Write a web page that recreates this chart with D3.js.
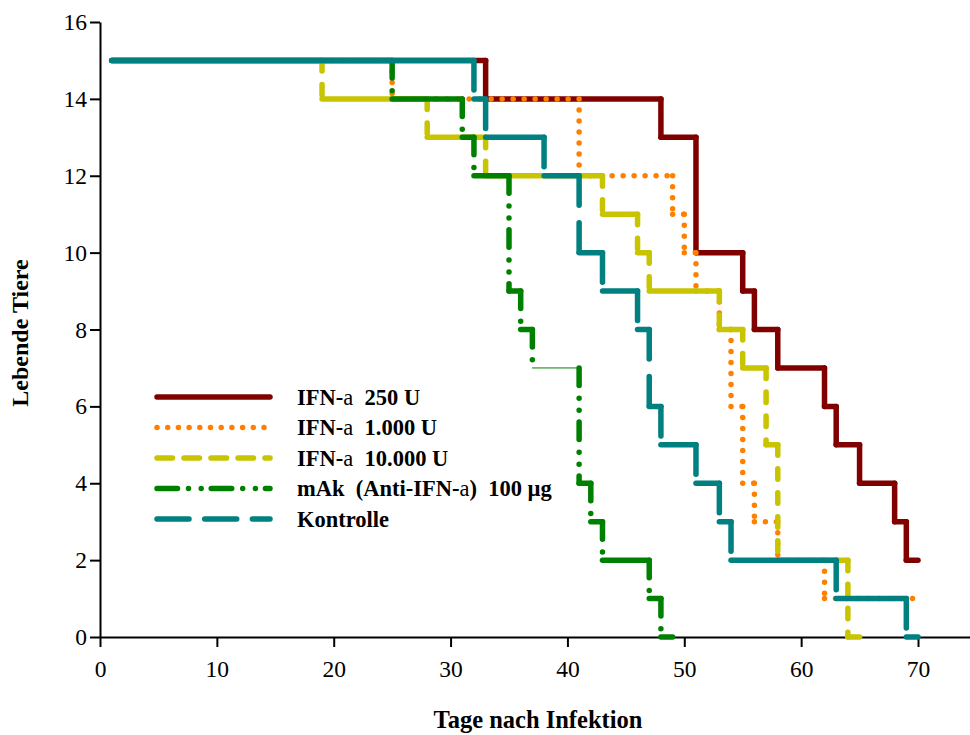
<!DOCTYPE html>
<html lang="de">
<head>
    <meta charset="UTF-8">
    <title>Lebende Tiere</title>
    <script src="https://d3js.org/d3.v7.min.js"></script>
    <style>
        body { margin: 0; background: #fff; }
        text { font-family: 'Liberation Serif', 'Times New Roman', serif; }
        .axis text { font-size: 23.5px; }
        .axis path, .axis line { stroke: #000; stroke-width: 2; }
        .title { font-size: 24px; font-weight: bold; }
        .legend text { font-size: 22.5px; font-weight: bold; white-space: pre; }
    </style>
</head>
<body>
<script>
    const width  = 970;
    const height = 735;

    // survival steps: alive[i] holds from days[i] until days[i+1]
    const names = ['IFN-a  250 U', 'IFN-a  1.000 U', 'IFN-a  10.000 U', 'mAk  (Anti-IFN-a)  100 µg', 'Kontrolle'];

    const days250   = [1, 33, 48, 51, 55, 56, 58, 62, 63, 65, 68, 69, 70];
    const alive250  = [15, 14, 13, 10, 9, 8, 7, 6, 5, 4, 3, 2];

    const days1000  = [1, 25, 41, 49, 50, 51, 53, 54, 55, 56, 58, 62, 70];
    const alive1000 = [15, 14, 12, 11, 10, 9, 8, 6, 4, 3, 2, 1];

    const days10000  = [1, 19, 28, 33, 43, 46, 47, 53, 55, 57, 58, 64, 65];
    const alive10000 = [15, 14, 13, 12, 11, 10, 9, 8, 7, 5, 2, 0];

    const daysMak  = [1, 25, 31, 32, 35, 36, 37, 41, 42, 43, 47, 48, 49];
    const aliveMak = [15, 14, 13, 12, 9, 8, 7, 4, 3, 2, 1, 0];

    const daysKontrolle  = [1, 32, 33, 38, 41, 43, 46, 47, 48, 51, 53, 54, 63, 69, 70];
    const aliveKontrolle = [15, 14, 13, 12, 10, 9, 8, 6, 5, 4, 3, 2, 1, 0];

    const xTicks = [0, 10, 20, 30, 40, 50, 60, 70];
    const yTicks = [0, 2, 4, 6, 8, 10, 12, 14, 16];

    const series = [
        {name: names[0], days: days250,       alive: alive250},
        {name: names[1], days: days1000,      alive: alive1000},
        {name: names[2], days: days10000,     alive: alive10000},
        {name: names[3], days: daysMak,       alive: aliveMak},
        {name: names[4], days: daysKontrolle, alive: aliveKontrolle}
    ];

    // line looks: horizontal runs, vertical drops, legend sample
    const looks = [
        {color: '#800000', w: 5.5, h: null,   v: null,                       leg: null},
        {color: '#ff8000', w: 5.5, h: '0 11', v: '0 11',                     leg: '0 10.7'},
        {color: '#c8c400', w: 5.5, h: null,   v: '10.5 13.5',                leg: '15.5 11.5'},
        {color: '#008000', w: 5.5, h: null,   v: '17.5 12.75 0 12 0 11.75',  leg: '20.5 11 0 12.7 0 10'},
        {color: '#008080', w: 5.5, h: null,   v: '29.5 17.5',                leg: '32 15.7'}
    ];

    const x = d3.scaleLinear().domain([0, 74.45]).range([100, 970]);
    const y = d3.scaleLinear().domain([0, 16]).range([637, 22]);

    const svg = d3.select('body').append('svg')
            .attr('width', width)
            .attr('height', height);

    const xAxis = svg.append('g').attr('class', 'axis')
            .attr('transform', 'translate(0,' + y(0) + ')')
            .call(d3.axisBottom(x).tickValues(xTicks).tickSize(10).tickSizeOuter(0).tickPadding(13));
    xAxis.selectAll('text').attr('fill', '#000');

    const yAxis = svg.append('g').attr('class', 'axis')
            .attr('transform', 'translate(' + x(0) + ',0)')
            .call(d3.axisLeft(y).tickValues(yTicks).tickSize(10).tickSizeOuter(0).tickPadding(3));
    yAxis.selectAll('text').attr('fill', '#000');
    svg.selectAll('.axis .domain').attr('stroke-width', 2);

    svg.append('text').attr('class', 'title')
            .attr('text-anchor', 'middle')
            .attr('x', 538).attr('y', 728)
            .style('font-size', '24.5px')
            .text('Tage nach Infektion');

    svg.append('text').attr('class', 'title')
            .attr('text-anchor', 'middle')
            .attr('transform', 'translate(28,333) rotate(-90)')
            .text('Lebende Tiere');

    const plot = svg.append('g');

    series.forEach((s, k) => {
        const look = looks[k];
        const g = plot.append('g')
                .attr('fill', 'none')
                .attr('stroke', look.color)
                .attr('stroke-width', look.w)
                .attr('stroke-linecap', 'round');

        const drops = s.alive.slice(1).map((a, i) => ({day: s.days[i + 1], from: s.alive[i], to: a}));
        g.selectAll('.drop')
            .data(drops)
            .enter().append('line').attr('class', 'drop')
                .attr('x1', d => x(d.day)).attr('x2', d => x(d.day))
                .attr('y1', d => y(d.from)).attr('y2', d => y(d.to))
                .attr('stroke-dasharray', look.v);

        const runs = s.alive.map((a, i) => ({from: s.days[i], to: s.days[i + 1], alive: a}));
        g.selectAll('.run')
            .data(runs)
            .enter().append('line').attr('class', 'run')
                .attr('x1', d => x(d.from)).attr('x2', d => x(d.to))
                .attr('y1', d => y(d.alive)).attr('y2', d => y(d.alive))
                .attr('stroke-dasharray', look.h)
                // the mAk run at 7 is only a hairline in the original
                .attr('stroke-width', d => (k === 3 && d.alive === 7) ? 1 : look.w);
    });

    const legend = svg.append('g')
            .attr('class', 'legend')
            .attr('transform', 'translate(' + [157, 397] + ')');

    const rows = legend.selectAll('g')
            .data(series)
            .enter().append('g')
            .attr('transform', (d, i) => 'translate(0,' + i * 30.5 + ')');

    rows.append('line')
            .attr('x1', 0).attr('x2', 113)
            .attr('stroke', (d, i) => looks[i].color)
            .attr('stroke-width', (d, i) => looks[i].w)
            .attr('stroke-linecap', 'round')
            .attr('stroke-dasharray', (d, i) => looks[i].leg);

    rows.append('text')
            .attr('x', 140)
            .attr('y', 7.5)
            .each(function(d) {
                const t = d3.select(this);
                const parts = d.name.split('IFN-a');
                parts.forEach((p, j) => {
                    if (j > 0) {
                        t.append('tspan').text('IFN-');
                        t.append('tspan').style('font-weight', 'normal').text('a');
                    }
                    if (p) t.append('tspan').text(p);
                });
            });
</script>
</body>
</html>
